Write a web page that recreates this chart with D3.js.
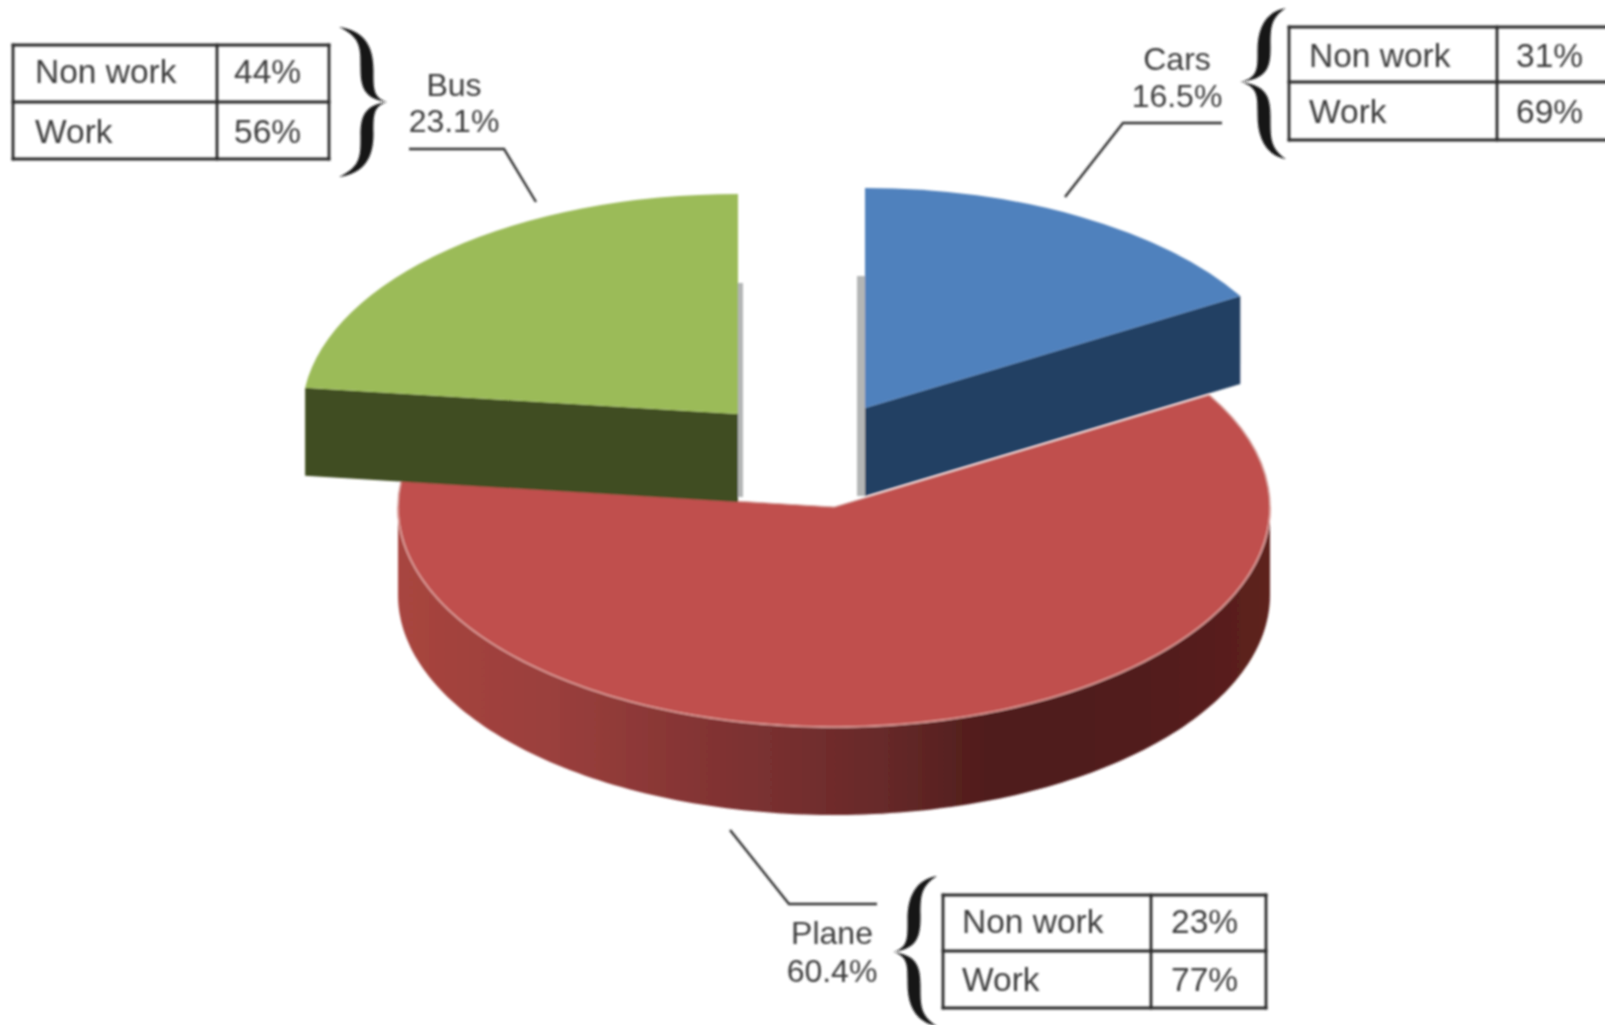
<!DOCTYPE html>
<html>
<head>
<meta charset="utf-8">
<script src="https://cdn.jsdelivr.net/npm/d3@7"></script>
<style>
  html, body { margin: 0; padding: 0; background: #fff; overflow: hidden; }
  svg { display: block; }
  text { font-family: "Liberation Sans", Arial, sans-serif; fill: #3c3c3c; }
</style>
</head>
<body>
<script>
// values
const categories = ["Cars", "Plane", "Bus"];
const shares = [16.5, 60.4, 23.1];
const rowNames = ["Non work", "Work"];
const nonWorkPct = [31, 23, 44];
const workPct = [69, 77, 56];

const width = 1605;
const height = 1025;

// pie geometry
const cx = 834, cy = 507, rx = 436, ry = 220, depth = 88;
const offsets = { Cars: [31, -99], Plane: [0, 0], Bus: [-96, -93] };
const topColor = d3.scaleOrdinal(categories, ["#4f81bd", "#c0504d", "#9bbb59"]);
const sideColor = d3.scaleOrdinal(categories, ["#233f63", "url(#planeSide)", "#3f4d20"]);

// where each callout sits
const layout = {
  Bus: {
    table: { x0: 13, col: 217, x1: 329, y0: 45, mid: 102, y1: 159 },
    textX: 35, pctX: 234, rowY: [83, 143], rightBorder: true,
    labelX: 454, labelY: [96, 132],
    leader: [[409, 149], [504, 149], [536, 202]],
    brace: { spine: 367, tip: 339, point: 387, y0: 27, mid: 102, y1: 177 }
  },
  Cars: {
    table: { x0: 1289, col: 1497, x1: 1625, y0: 27, mid: 82, y1: 140 },
    textX: 1309, pctX: 1516, rowY: [67, 123], rightBorder: false,
    labelX: 1177, labelY: [70, 107],
    leader: [[1222, 123], [1123, 123], [1065, 197]],
    brace: { spine: 1264, tip: 1286, point: 1240, y0: 8, mid: 82, y1: 159 }
  },
  Plane: {
    table: { x0: 943, col: 1151, x1: 1266, y0: 895, mid: 951, y1: 1008 },
    textX: 962, pctX: 1171, rowY: [933, 991], rightBorder: true,
    labelX: 832, labelY: [944, 982],
    leader: [[730, 830], [789, 904], [877, 904]],
    brace: { spine: 914, tip: 937, point: 893, y0: 876, mid: 952, y1: 1026 }
  }
};

const svg = d3.select("body").append("svg")
  .attr("width", width)
  .attr("height", height)
  .attr("viewBox", `0 0 ${width} ${height}`);

const defs = svg.append("defs");

// the reference is a soft scan, so everything gets a slight blur
function addBlur(id, amount) {
  defs.append("filter").attr("id", id)
    .attr("filterUnits", "userSpaceOnUse")
    .attr("x", 0).attr("y", 0).attr("width", width).attr("height", height)
    .append("feGaussianBlur").attr("stdDeviation", amount);
}
addBlur("softPie", 1.2);
addBlur("softText", 0.85);

const grad = defs.append("linearGradient")
  .attr("id", "planeSide")
  .attr("gradientUnits", "userSpaceOnUse")
  .attr("x1", cx - rx).attr("x2", cx + rx).attr("y1", 0).attr("y2", 0);
[[0, "#a8453f"], [0.18, "#9a3f3c"], [0.38, "#7f3232"], [0.55, "#682a2a"],
 [0.68, "#4f1c1b"], [0.88, "#521d1b"], [1, "#5e211e"]].forEach(s => {
  grad.append("stop").attr("offset", s[0]).attr("stop-color", s[1]);
});

const pieLayer = svg.append("g").attr("filter", "url(#softPie)");
const textLayer = svg.append("g").attr("filter", "url(#softText)");

const pie = d3.pie().sort(null).value(d => d.share).startAngle(0).endAngle(2 * Math.PI);
const slices = pie(categories.map((c, i) => ({ name: c, share: shares[i] })));
const byName = {};
slices.forEach(s => { byName[s.data.name] = s; });

const arc = d3.arc().innerRadius(0).outerRadius(rx);
const rim = (a, dx, dy) => [cx + dx + rx * Math.sin(a), cy + dy - ry * Math.cos(a)];

// thin grey inner faces next to the gap
const gap = pieLayer.append("g").attr("fill", "#b3b5b5");
gap.append("rect").attr("x", 737).attr("y", 283).attr("width", 6).attr("height", 214);
gap.append("rect").attr("x", 857).attr("y", 276).attr("width", 9).attr("height", 220);

function drawSlice(name) {
  const s = byName[name];
  const [dx, dy] = offsets[name];
  const g = pieLayer.append("g");

  if (name === "Plane") {
    // round front wall of the big slice
    const angles = d3.range(Math.PI / 2, 3 * Math.PI / 2 + 0.001, 0.02);
    const top = angles.map(a => rim(a, dx, dy));
    const bottom = angles.slice().reverse().map(a => rim(a, dx, dy + depth));
    g.append("path")
      .attr("d", d3.line()(top.concat(bottom)) + "Z")
      .attr("fill", sideColor(name));
    g.append("path")
      .attr("d", arc({ startAngle: s.startAngle, endAngle: s.endAngle }))
      .attr("transform", `translate(${cx + dx},${cy + dy}) scale(1,${ry / rx})`)
      .attr("fill", topColor(name))
      .attr("stroke", "#d9a5a1")
      .attr("stroke-width", 1.5);
    g.append("path")
      .attr("d", d3.line()(top))
      .attr("fill", "none")
      .attr("stroke", "#dc9a96")
      .attr("stroke-width", 1.6);
  } else {
    // straight cut face, seen from the front
    const a = name === "Cars" ? s.endAngle : s.startAngle;
    const corner = rim(a, dx, dy);
    const apex = [cx + dx, cy + dy];
    g.append("path")
      .attr("d", d3.line()([apex, corner, [corner[0], corner[1] + depth], [apex[0], apex[1] + depth]]) + "Z")
      .attr("fill", sideColor(name));
    g.append("path")
      .attr("d", arc({ startAngle: s.startAngle, endAngle: s.endAngle }))
      .attr("transform", `translate(${cx + dx},${cy + dy}) scale(1,${ry / rx})`)
      .attr("fill", topColor(name));
  }
}

drawSlice("Plane");
drawSlice("Cars");
drawSlice("Bus");

// curly brace as a filled shape, thick in each half and thin at the ends
function bracePath(b) {
  const d = b.point > b.spine ? 1 : -1;
  const t = 6.5;
  const half = (yEnd, p) => {
    const v = yEnd > b.mid ? 1 : -1;
    const h = Math.abs(yEnd - b.mid);
    const y = f => b.mid + v * h * f;
    // from the point out to the tip along the far side
    p.bezierCurveTo(b.spine + d * 6, y(0.06), b.spine + d * t, y(0.18), b.spine + d * t, y(0.42));
    p.bezierCurveTo(b.spine + d * t, y(0.72), b.spine - d * 1, y(0.95), b.tip, yEnd);
    // and back along the near side
    p.bezierCurveTo(b.spine - d * 6, y(0.86), b.spine - d * t, y(0.72), b.spine - d * t, y(0.45));
    p.bezierCurveTo(b.spine - d * t, y(0.18), b.spine - d * 2, y(0.04), b.point, b.mid);
  };
  const p = d3.path();
  p.moveTo(b.point, b.mid);
  half(b.y0, p);
  half(b.y1, p);
  p.closePath();
  return p.toString();
}

// callouts: leader line, category label, brace and little table
categories.forEach((name, i) => {
  const l = layout[name];
  const g = textLayer.append("g");

  g.append("path")
    .attr("d", d3.line()(l.leader))
    .attr("fill", "none")
    .attr("stroke", "#333")
    .attr("stroke-width", 2.4);

  const labels = [name, shares[i].toFixed(1) + "%"];
  g.selectAll("text.label")
    .data(labels)
    .join("text")
    .attr("class", "label")
    .attr("x", l.labelX)
    .attr("y", (d, j) => l.labelY[j])
    .attr("text-anchor", "middle")
    .attr("font-size", 32)
    .text(d => d);

  g.append("path")
    .attr("d", bracePath(l.brace))
    .attr("fill", "#161616");

  const t = l.table;
  const lines = [
    [t.x0, t.y0, t.x1, t.y0],
    [t.x0, t.mid, t.x1, t.mid],
    [t.x0, t.y1, t.x1, t.y1],
    [t.x0, t.y0, t.x0, t.y1],
    [t.col, t.y0, t.col, t.y1]
  ];
  if (l.rightBorder) lines.push([t.x1, t.y0, t.x1, t.y1]);
  g.selectAll("line")
    .data(lines)
    .join("line")
    .attr("x1", d => d[0]).attr("y1", d => d[1])
    .attr("x2", d => d[2]).attr("y2", d => d[3])
    .attr("stroke", "#2a2a2a")
    .attr("stroke-width", 2.8)
    .attr("stroke-linecap", "square");

  const pcts = [nonWorkPct[i], workPct[i]];
  rowNames.forEach((row, j) => {
    g.append("text").attr("x", l.textX).attr("y", l.rowY[j])
      .attr("font-size", 33.5).text(row);
    g.append("text").attr("x", l.pctX).attr("y", l.rowY[j])
      .attr("font-size", 33.5).text(pcts[j] + "%");
  });
});
</script>
</body>
</html>
